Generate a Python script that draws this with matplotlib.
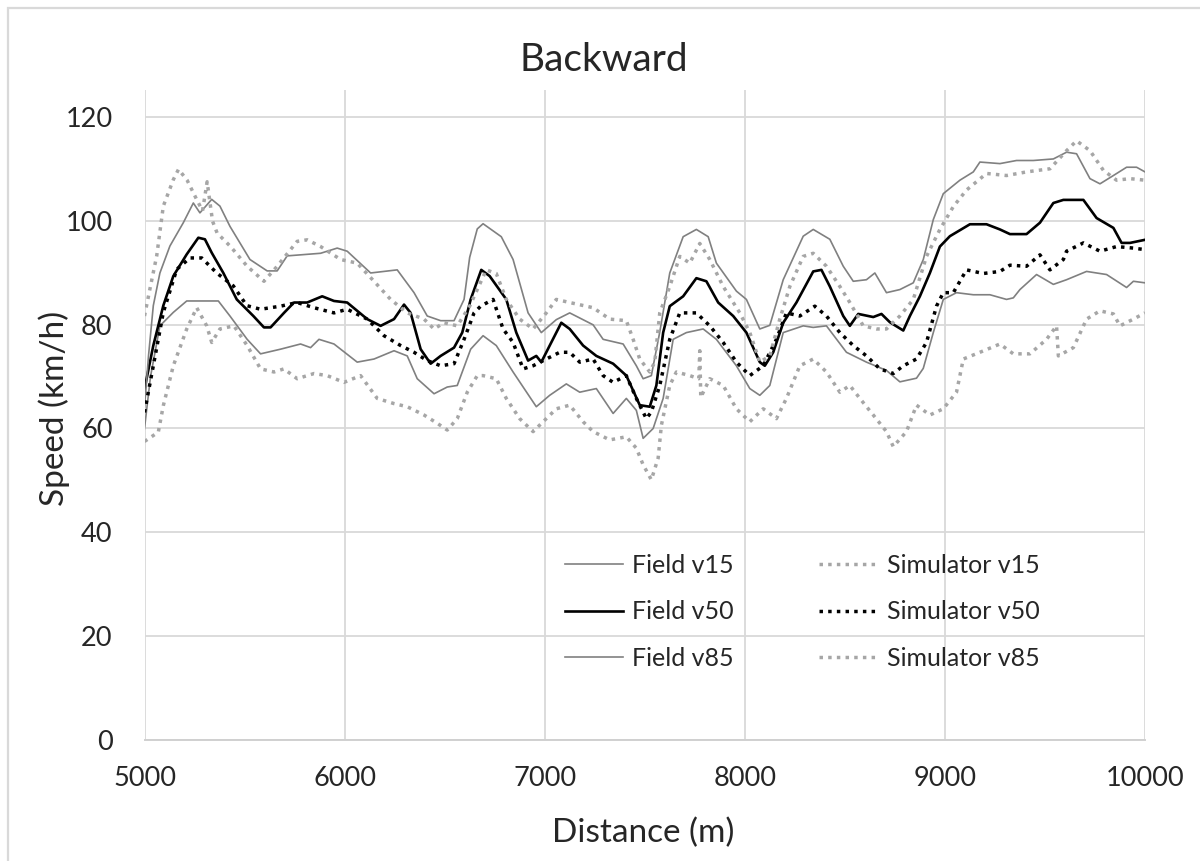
import matplotlib
matplotlib.use("Agg")
import matplotlib.pyplot as plt
from matplotlib.patches import Rectangle

# ---------------- data ----------------
field_v85_x = [5000, 5020, 5044, 5077, 5127, 5194, 5244, 5277, 5336, 5377, 5427, 5527, 5613, 5663, 5713, 5780,
               5880, 5963, 6013, 6130, 6263, 6347, 6413, 6480, 6547, 6597, 6625, 6663, 6692, 6783, 6842, 6917,
               6983, 7058, 7125, 7242, 7292, 7392, 7458, 7492, 7533, 7575, 7625, 7692, 7758, 7817, 7858, 7958,
               8008, 8075, 8125, 8192, 8292, 8342, 8425, 8492, 8542, 8608, 8650, 8708, 8775, 8842, 8892, 8942,
               8992, 9075, 9142, 9175, 9275, 9358, 9442, 9542, 9608, 9658, 9725, 9775, 9842, 9908, 9958, 10000]
field_v85_y = [64, 74, 83.7, 90, 95.2, 99.7, 103.5, 101.6, 104.2, 102.9, 99, 92.6, 90.4, 90.4, 93.3, 93.5,
               93.8, 94.8, 94.2, 90, 90.6, 86.2, 81.7, 80.8, 80.8, 84.9, 93, 98.5, 99.5, 97, 92.6, 82.3,
               78.5, 81, 82.3, 80, 77.2, 76.3, 72.1, 69.6, 70.2, 78.6, 90, 97, 98.4, 97, 91.9, 86.5,
               84.9, 79.2, 79.9, 88.7, 97.1, 98.4, 96.5, 91.3, 88.4, 88.7, 90, 86.2, 86.8, 88.1, 92.6, 100.3,
               105.3, 107.9, 109.5, 111.4, 111.1, 111.7, 111.7, 112, 113.3, 113, 108.2, 107.2, 108.8, 110.4, 110.4, 109.5]

field_v50_x = [5000, 5044, 5094, 5144, 5211, 5269, 5302, 5336, 5394, 5461, 5544, 5597, 5630, 5697, 5747, 5813,
               5888, 5947, 6013, 6113, 6180, 6247, 6297, 6330, 6380, 6430, 6480, 6547, 6588, 6630, 6683, 6725,
               6808, 6858, 6917, 6958, 6983, 7025, 7083, 7125, 7192, 7258, 7342, 7408, 7475, 7525, 7558, 7592,
               7625, 7692, 7758, 7808, 7867, 7942, 8008, 8075, 8100, 8142, 8192, 8258, 8342, 8383, 8425, 8492,
               8525, 8567, 8642, 8683, 8725, 8792, 8825, 8875, 8925, 8975, 9025, 9125, 9208, 9275, 9325, 9408,
               9475, 9542, 9592, 9692, 9758, 9842, 9883, 9925, 10000]
field_v50_y = [67.6, 76, 83.7, 89.4, 93.6, 96.8, 96.5, 93.9, 90, 84.9, 81.7, 79.5, 79.5, 82.3, 84.3, 84.3,
               85.5, 84.6, 84.3, 81.1, 79.8, 81.1, 83.9, 82.3, 75.3, 72.5, 74, 75.6, 78.5, 84.9, 90.6, 89.4,
               84.9, 78.5, 73.1, 74, 72.8, 76, 80.4, 79.2, 76, 74, 72.5, 70.2, 64.5, 64.2, 68.3, 78.5,
               83.6, 85.5, 89, 88.4, 84.3, 81.7, 78.5, 72.8, 72.1, 74.7, 80.4, 84.3, 90.3, 90.6, 87.4, 81.7,
               79.8, 82.1, 81.5, 82.1, 80.5, 78.9, 81.7, 85.5, 90, 95.1, 97.1, 99.4, 99.4, 98.4, 97.5, 97.5,
               99.7, 103.5, 104.1, 104.1, 100.6, 98.7, 95.8, 95.8, 96.4]

field_v15_x = [5000, 5030, 5077, 5144, 5211, 5369, 5427, 5513, 5580, 5680, 5780, 5830, 5872, 5947, 6063, 6147,
               6247, 6313, 6363, 6447, 6513, 6563, 6630, 6692, 6758, 6842, 6958, 7025, 7108, 7175, 7258, 7342,
               7408, 7458, 7492, 7542, 7592, 7642, 7708, 7792, 7858, 7958, 8025, 8075, 8125, 8192, 8292, 8342,
               8408, 8508, 8608, 8708, 8775, 8858, 8892, 8942, 8992, 9058, 9142, 9225, 9308, 9342, 9375, 9458,
               9542, 9608, 9708, 9808, 9908, 9942, 10000]
field_v15_y = [60, 70, 79.8, 82.4, 84.6, 84.6, 81.7, 77.2, 74.4, 75.3, 76.3, 75.6, 77.2, 76.3, 72.8, 73.4,
               75, 74, 69.6, 66.7, 68, 68.3, 75.3, 77.9, 76, 70.9, 64.2, 66.4, 68.6, 67, 67.7, 62.9,
               65.8, 63.5, 58.1, 60, 65.8, 77.2, 78.5, 79.2, 77.2, 72.1, 67.7, 66.4, 68.3, 78.5, 79.8, 79.5,
               79.8, 74.7, 72.8, 71.2, 69, 69.7, 71.6, 78.5, 84.9, 86.2, 85.8, 85.8, 84.9, 85.2, 86.8, 89.7,
               87.8, 88.7, 90.3, 89.7, 87.2, 88.4, 88.1]

sim_v85_x = [5000, 5027, 5061, 5094, 5144, 5170, 5213, 5263, 5290, 5313, 5340, 5363, 5430, 5513, 5597, 5663,
             5763, 5813, 5880, 5980, 6063, 6147, 6230, 6313, 6397, 6447, 6497, 6563, 6625, 6708, 6758, 6808,
             6875, 6942, 7008, 7058, 7125, 7242, 7325, 7408, 7442, 7475, 7525, 7550, 7575, 7625, 7675, 7725,
             7775, 7825, 7892, 7975, 8025, 8075, 8125, 8175, 8225, 8292, 8342, 8408, 8475, 8525, 8592, 8658,
             8708, 8775, 8842, 8908, 8975, 9042, 9108, 9208, 9308, 9408, 9525, 9608, 9658, 9725, 9792, 9858,
             9925, 10000]
sim_v85_y = [81.7, 86.9, 93.3, 102.9, 108, 110, 107.9, 104, 102, 107.6, 100, 97.7, 95.1, 91.3, 88.4, 91.3,
             96.1, 96.4, 95.1, 92.6, 91.9, 88.4, 84.9, 82.3, 81.1, 79.2, 80.4, 79.8, 83.6, 90.6, 89.9, 84.9,
             81.1, 79.2, 82.3, 84.9, 84.3, 83.3, 81.1, 80.8, 77.2, 73.4, 70.9, 72.8, 82.3, 87.4, 93.2, 91.9,
             95.7, 92.6, 87.4, 82.3, 78.5, 72.8, 74, 81.1, 87.4, 93.2, 93.8, 91.3, 87.4, 84.3, 79.8, 79.2,
             79.2, 81.7, 84.9, 93.2, 98.4, 102.8, 106, 109.2, 108.8, 109.5, 110.1, 113.6, 115.5, 113.6, 109.8, 107.9,
             108.2, 107.9]

sim_v50_x = [5000, 5044, 5094, 5161, 5227, 5286, 5361, 5444, 5511, 5580, 5680, 5763, 5847, 5947, 6013, 6113,
             6197, 6280, 6347, 6413, 6480, 6547, 6597, 6647, 6680, 6742, 6792, 6842, 6892, 6942, 7008, 7075,
             7125, 7175, 7242, 7292, 7342, 7408, 7458, 7508, 7533, 7575, 7625, 7675, 7758, 7825, 7892, 7958,
             8025, 8092, 8158, 8208, 8275, 8350, 8408, 8475, 8542, 8608, 8675, 8742, 8792, 8858, 8908, 8958,
             8992, 9042, 9108, 9192, 9275, 9325, 9408, 9475, 9525, 9592, 9608, 9692, 9775, 9858, 9942, 10000]
sim_v50_y = [63.1, 72.1, 82.4, 90.7, 92.9, 92.9, 90, 87.5, 83.7, 83, 83.6, 84.3, 83.3, 82.3, 83, 81.1,
             77.9, 76, 74.7, 73.1, 72.1, 72.5, 77.2, 82.3, 83.6, 84.9, 79.2, 76.6, 71.5, 72.1, 73.4, 74.7,
             74.7, 72.8, 73.4, 70.2, 68.9, 70.2, 65.8, 61.9, 63.2, 68.3, 77.2, 82.3, 82.3, 79.8, 76.6, 72.8,
             70.2, 72.1, 77.2, 82.3, 81.7, 83.6, 81.7, 78.5, 76, 74, 71.5, 70.6, 72.1, 73.4, 76.6, 83.6,
             86.2, 86.2, 90.6, 89.9, 90.3, 91.5, 91.3, 93.5, 90.6, 92.6, 94.2, 95.8, 94.2, 95.1, 94.8, 94.5]

sim_v15_x = [5000, 5069, 5094, 5144, 5211, 5261, 5311, 5336, 5377, 5447, 5513, 5580, 5647, 5697, 5763, 5847,
             5913, 5997, 6080, 6163, 6247, 6313, 6397, 6463, 6513, 6563, 6613, 6663, 6692, 6758, 6808, 6875,
             6942, 6992, 7058, 7125, 7192, 7242, 7325, 7408, 7458, 7492, 7533, 7567, 7583, 7625, 7658, 7725,
             7770, 7775, 7780, 7825, 7892, 7958, 8025, 8092, 8158, 8208, 8275, 8342, 8408, 8475, 8525, 8575,
             8642, 8708, 8742, 8808, 8858, 8925, 8992, 9058, 9092, 9175, 9275, 9342, 9425, 9508, 9558, 9567,
             9642, 9708, 9775, 9842, 9875, 9942, 10000]
sim_v15_y = [57.5, 59.3, 64.4, 72.1, 79.2, 83.3, 79.8, 76.6, 79.2, 79.8, 76, 71.5, 70.9, 71.5, 69.6, 70.6,
             70.2, 68.9, 70.2, 65.8, 64.8, 64.2, 62.6, 61, 59.7, 61.9, 67, 70.2, 70.2, 69.6, 65.8, 61.9,
             59.4, 61.3, 63.8, 64.5, 61.3, 59.4, 57.8, 58.4, 56.2, 53, 50.1, 54.3, 60.6, 68.3, 70.9, 70.2,
             69.6, 75, 66, 69.6, 68.3, 63.8, 61.3, 63.8, 61.9, 65.8, 72.1, 73.4, 70.9, 67, 68.3, 65.8,
             62.6, 59.4, 56.5, 59.4, 64.5, 62.6, 63.8, 67, 73.4, 74.7, 76.3, 74.4, 74.4, 77.2, 79.8, 74,
             75.6, 81.1, 82.7, 82.1, 79.8, 81.1, 82.3]

series_labels = ["Field v15", "Field v50", "Field v85", "Simulator v15", "Simulator v50", "Simulator v85"]
x_ticks = [5000, 6000, 7000, 8000, 9000, 10000]
y_ticks = [0, 20, 40, 60, 80, 100, 120]

# ---------------- figure ----------------
plt.rcParams['font.family'] = ['Lato', 'DejaVu Sans']
W, H = 1200, 861
fig = plt.figure(figsize=(W / 100, H / 100), dpi=100)
fig.patch.set_facecolor('white')

# chart outer frame
fig.patches.append(Rectangle((8 / W, -0.05), 1.2, 1 - 8 / H + 0.05, transform=fig.transFigure,
                             fill=False, edgecolor='#d9d9d9', linewidth=1.6, zorder=0))

ax = fig.add_axes([144.5 / W, (H - 739.5) / H, (1145 - 144.5) / W, (739.5 - 90) / H])
ax.set_xlim(5000, 10000)
ax.set_ylim(0, 125.3)
ax.set_xticks(x_ticks)
ax.set_yticks(y_ticks)
ax.grid(True, color='#d9d9d9', linewidth=1.3, zorder=0)
ax.set_axisbelow(True)
for s in ['top', 'right', 'left']:
    ax.spines[s].set_visible(False)
ax.spines['bottom'].set_color('#d0d0d0')
ax.spines['bottom'].set_linewidth(1.4)
ax.tick_params(axis='both', length=0, labelsize=19.5, colors='#262626')
ax.tick_params(axis='y', pad=23)
ax.tick_params(axis='x', pad=19)

gray_solid = '#808080'
gray_dot = '#a6a6a6'
dot = (0, (1.0, 1.5))

ax.plot(field_v15_x, field_v15_y, color=gray_solid, lw=1.2, label=series_labels[0])
ax.plot(field_v50_x, field_v50_y, color='black', lw=1.9, label=series_labels[1])
ax.plot(field_v85_x, field_v85_y, color=gray_solid, lw=1.2, label=series_labels[2])
ax.plot(sim_v15_x, sim_v15_y, color=gray_dot, lw=2.5, ls=dot, label=series_labels[3])
ax.plot(sim_v50_x, sim_v50_y, color='black', lw=2.5, ls=dot, label=series_labels[4])
ax.plot(sim_v85_x, sim_v85_y, color=gray_dot, lw=2.5, ls=dot, label=series_labels[5])

leg = ax.legend(ncol=2, loc='upper left', bbox_to_anchor=((565 - 144.5) / (1145 - 144.5), (739.5 - 554) / (739.5 - 90)),
                frameon=False, fontsize=18, handlelength=2.3, handletextpad=0.4,
                columnspacing=3.4, labelspacing=0.93, borderpad=0, borderaxespad=0)
for t in leg.get_texts():
    t.set_color('#262626')

fig.text(604 / W, 1 - 60 / H, 'Backward', ha='center', va='center', fontsize=28, color='#262626')
fig.text(643 / W, 1 - 833 / H, 'Distance (m)', ha='center', va='center', fontsize=24, color='#262626')
fig.text(54 / W, 1 - 408 / H, 'Speed (km/h)', ha='center', va='center', rotation=90, fontsize=24, color='#262626')

fig.savefig('out.png', dpi=100, facecolor='white')
